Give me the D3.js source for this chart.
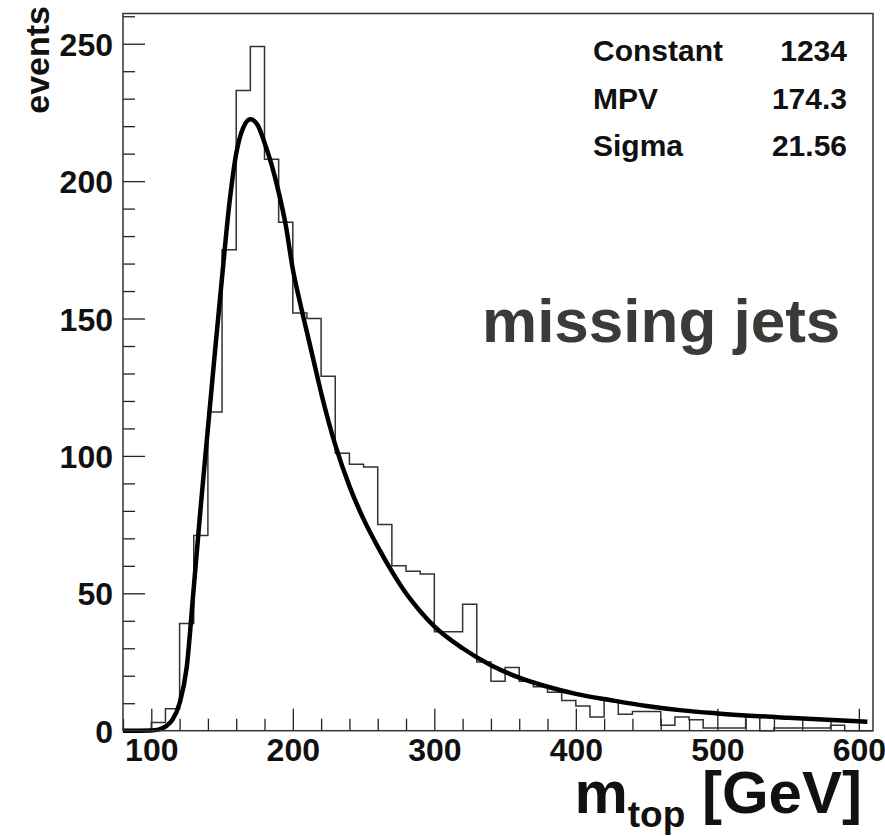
<!DOCTYPE html>
<html lang="en">
<head>
  <meta charset="UTF-8">
  <title>m_top missing jets</title>
  <script type="text/javascript" src="https://cdn.jsdelivr.net/npm/d3@7/dist/d3.min.js"></script>
  <style type="text/css">
    * {
      margin: 0;
      padding: 0;
    }

    html, body {
      width: 100%;
      height: 100%;
      background-color: #fff;
    }

    svg text {
      font-family: "Liberation Sans", Arial, Helvetica, sans-serif;
      font-weight: bold;
    }
  </style>
</head>

<body>
<div id="box"></div>
</body>
<script type="text/javascript">
  // histogram: lower bin edges (GeV), 10 GeV bins
  var binEdges = [80, 90, 100, 110, 120, 130, 140, 150, 160, 170, 180, 190, 200, 210, 220, 230,
    240, 250, 260, 270, 280, 290, 300, 310, 320, 330, 340, 350, 360, 370, 380, 390, 400, 410,
    420, 430, 440, 450, 460, 470, 480, 490, 500, 510, 520, 530, 540, 550, 560, 570, 580, 590, 600]
  var binCounts = [0, 0, 3, 8, 39, 71, 116, 175, 233, 249, 208, 185, 152, 150, 129, 101,
    97, 96, 75, 60, 58, 57, 36, 36, 46, 25, 18, 23, 18, 16, 14, 11, 9, 5,
    11, 6, 7, 7, 2, 5, 4, 1, 1, 1, 5, 0, 1, 1, 1, 1, 2, 0, 0]
  var binWidth = 10

  // fitted curve
  var fitX = [80, 100, 105, 110, 115, 120, 125, 130, 135, 140, 145, 150, 155, 160, 165, 170,
    175, 180, 185, 190, 195, 200, 205, 210, 215, 220, 230, 240, 250, 260, 270, 280, 290, 300,
    320, 340, 360, 380, 400, 425, 450, 475, 500, 550, 606]
  var fitY = [0, 0.1, 0.4, 1.5, 4, 10, 23, 52, 82, 110, 138, 165, 191, 210, 219.5, 222.5,
    220.5, 214, 206, 196, 184, 168, 156, 145, 134, 123, 104, 89, 77, 67, 58, 50, 43.5, 38,
    30, 23.8, 19.3, 16, 13.4, 11.1, 9, 7.4, 6.3, 4.7, 3.3]

  var xTicks = [100, 200, 300, 400, 500, 600]
  var yTicks = [0, 50, 100, 150, 200, 250]
  var statNames = ['Constant', 'MPV', 'Sigma']
  var statValues = ['1234', '174.3', '21.56']

  var width = 885
  var height = 836
  var padL = 123, padR = 873, padT = 13.5, padB = 730.7

  var svg = d3.select('#box')
    .append('svg')
    .attr('width', width)
    .attr('height', height)

  var x = d3.scaleLinear().domain([80, 610]).range([padL, padR])
  var y = d3.scaleLinear().domain([0, 261]).range([padB, padT])

  // minor ticks
  var xMinor = d3.range(80, 611, 20).filter(function (d) { return xTicks.indexOf(d) < 0 })
  var yMinor = d3.range(0, 261, 10).filter(function (d) { return yTicks.indexOf(d) < 0 })

  function styleAxis(g) {
    g.select('.domain').remove()
    g.selectAll('line').attr('stroke', '#222').attr('stroke-width', 1.3)
  }

  svg.append('g').attr('transform', 'translate(0,' + padB + ')')
    .call(d3.axisBottom(x).tickValues(xMinor).tickSize(-12).tickFormat(''))
    .call(styleAxis)
  svg.append('g').attr('transform', 'translate(0,' + padB + ')')
    .call(d3.axisBottom(x).tickValues(xTicks).tickSize(-22).tickPadding(8))
    .call(styleAxis)
    .selectAll('text')
    .attr('fill', '#111')
    .attr('font-size', 32)
    .attr('dy', '0.71em')

  svg.append('g').attr('transform', 'translate(' + padL + ',0)')
    .call(d3.axisLeft(y).tickValues(yMinor).tickSize(-12).tickFormat(''))
    .call(styleAxis)
  svg.append('g').attr('transform', 'translate(' + padL + ',0)')
    .call(d3.axisLeft(y).tickValues(yTicks).tickSize(-22).tickPadding(10))
    .call(styleAxis)
    .selectAll('text')
    .attr('fill', '#111')
    .attr('font-size', 32)
    .attr('dy', '0.36em')

  // histogram outline
  var histPts = binEdges.map(function (e, i) { return [e, binCounts[i]] })
  histPts.push([binEdges[binEdges.length - 1] + binWidth, binCounts[binCounts.length - 1]])
  var stepLine = d3.line()
    .x(function (d) { return x(d[0]) })
    .y(function (d) { return y(d[1]) })
    .curve(d3.curveStepAfter)
  svg.append('path')
    .attr('d', stepLine(histPts))
    .attr('fill', 'none')
    .attr('stroke', '#333')
    .attr('stroke-width', 1.5)

  // fit curve
  var fitLine = d3.line()
    .x(function (d, i) { return x(fitX[i]) })
    .y(function (d) { return y(d) })
    .curve(d3.curveMonotoneX)
  svg.append('path')
    .attr('d', fitLine(fitY))
    .attr('fill', 'none')
    .attr('stroke', '#000')
    .attr('stroke-width', 4.5)
    .attr('stroke-linejoin', 'round')

  // frame
  svg.append('rect')
    .attr('x', padL).attr('y', padT)
    .attr('width', padR - padL).attr('height', padB - padT)
    .attr('fill', 'none')
    .attr('stroke', '#333')
    .attr('stroke-width', 1.5)

  // stats
  svg.selectAll('.sname').data(statNames).enter().append('text')
    .attr('x', 593)
    .attr('y', function (d, i) { return 61 + i * 47.5 })
    .attr('font-size', 30)
    .attr('fill', '#111')
    .text(function (d) { return d })
  svg.selectAll('.sval').data(statValues).enter().append('text')
    .attr('x', 847)
    .attr('y', function (d, i) { return 61 + i * 47.5 })
    .attr('text-anchor', 'end')
    .attr('font-size', 30)
    .attr('fill', '#111')
    .text(function (d) { return d })

  svg.append('text')
    .attr('x', 482).attr('y', 342)
    .attr('font-size', 62)
    .attr('fill', '#3c3a36')
    .text('missing jets')

  // axis titles
  svg.append('text')
    .attr('transform', 'translate(49,6) rotate(-90)')
    .attr('text-anchor', 'end')
    .attr('font-size', 34)
    .attr('fill', '#111')
    .text('events')

  var xt = svg.append('text')
    .attr('x', 862).attr('y', 813)
    .attr('text-anchor', 'end')
    .attr('font-size', 60)
    .attr('fill', '#111')
  xt.append('tspan').text('m')
  xt.append('tspan').attr('font-size', 37).attr('dy', 14).text('top')
  xt.append('tspan').attr('dy', -14).text(' [GeV]')
</script>
</html>
